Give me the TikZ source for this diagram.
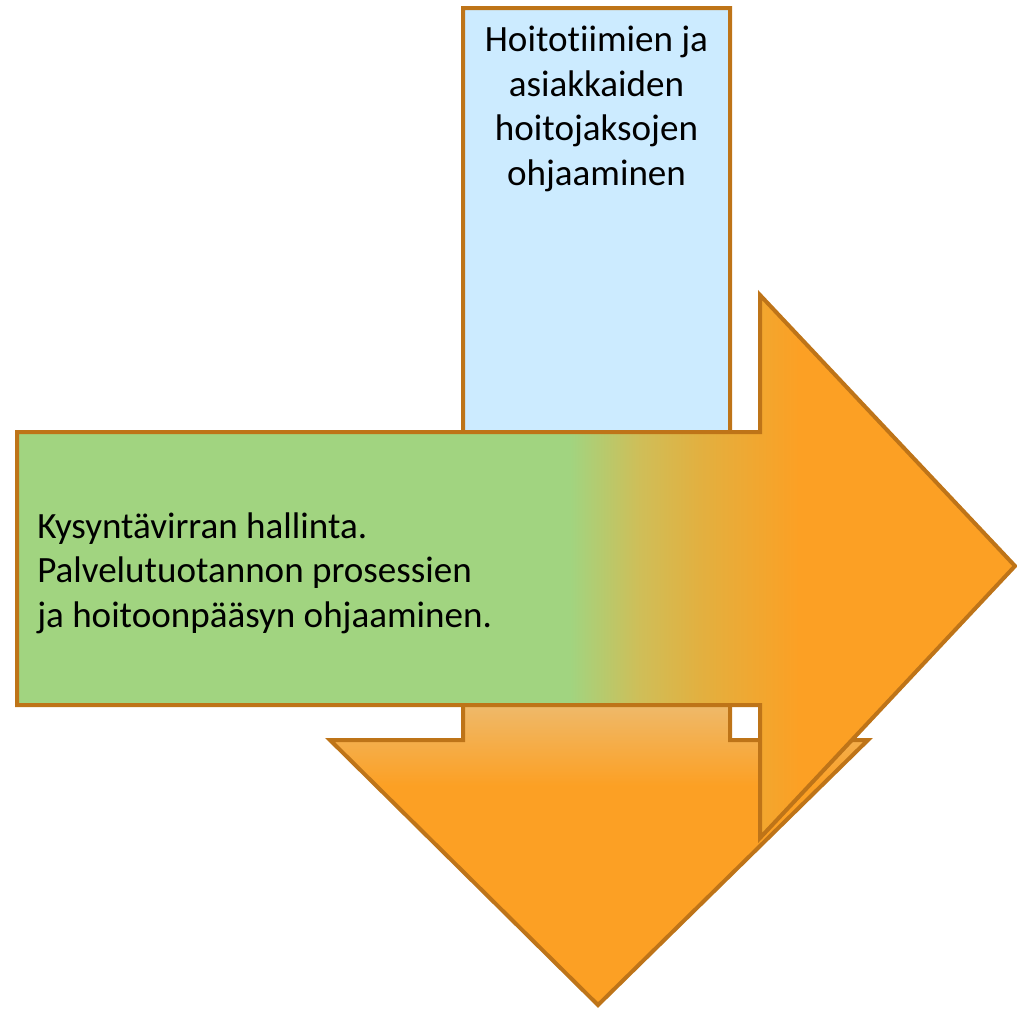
\documentclass[tikz,border=0pt]{standalone}
\usepackage{fontspec}
\setmainfont{Carlito}[Ligatures=NoCommon]
\definecolor{bordc}{HTML}{BE7418}
\definecolor{lblue}{HTML}{CCEBFF}
\definecolor{gre}{HTML}{A1D480}
\definecolor{ora}{HTML}{FCA024}
\definecolor{lora}{HTML}{EDBC72}
\definecolor{yel}{HTML}{CFBE58}
\definecolor{yel2}{HTML}{E2B040}
\pgfdeclareverticalshading{downshade}{100bp}{color(0bp)=(ora); color(36bp)=(ora); color(40.5bp)=(lora); color(45bp)=(lblue); color(100bp)=(lblue)}
\pgfdeclarehorizontalshading{rightshade}{100bp}{color(0bp)=(gre); color(52.7bp)=(gre); color(56.2bp)=(yel); color(59.2bp)=(yel2); color(64.2bp)=(ora); color(100bp)=(ora)}
\tikzset{
  arrowshape/.style={draw=bordc, line width=3pt, line join=miter},
  lbl/.style={text=black, inner sep=0pt, font=\fontsize{27.8}{33.3}\selectfont},
}
\begin{document}
\begin{tikzpicture}[x=0.75pt,y=-0.75pt]
\useasboundingbox (0,0) rectangle (1017,1008);
\shadedraw[arrowshape, shading=downshade]
  (463,8) -- (730,8) -- (730,740) -- (868,740) -- (598,1005) -- (330,740) -- (463,740) -- cycle;
\shadedraw[arrowshape, shading=rightshade]
  (17,432) -- (760,432) -- (760,295) -- (1015,566) -- (760,838) -- (760,705) -- (17,705) -- cycle;
\node[lbl, align=center, anchor=base] (top) at (596.5,185)
  {Hoitotiimien ja\\asiakkaiden\\hoitojaksojen\\ohjaaminen};
\node[lbl, align=left, anchor=base west] (left) at (37,627)
  {Kysyntävirran hallinta.\\Palvelutuotannon prosessien\\ja hoitoonpääsyn ohjaaminen.};
\end{tikzpicture}
\end{document}
